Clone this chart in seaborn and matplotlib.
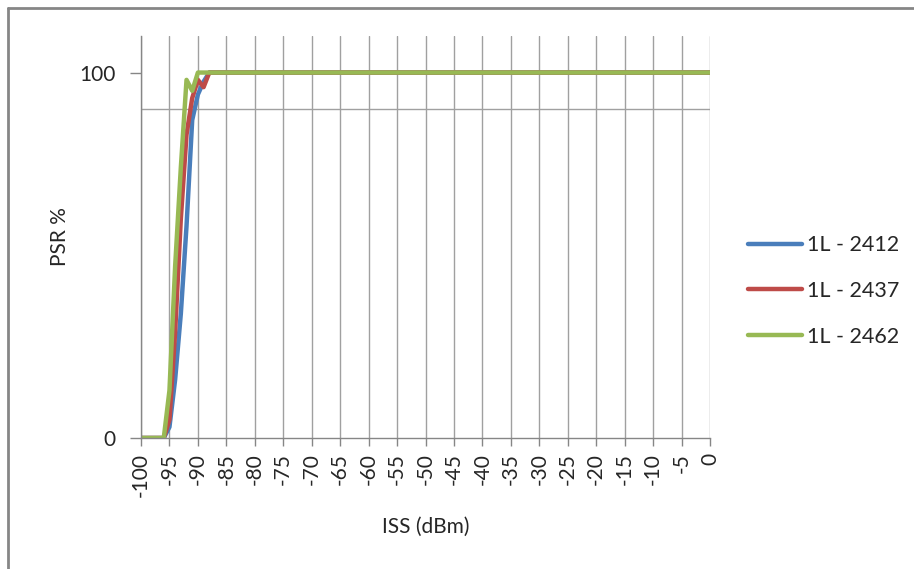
import matplotlib
matplotlib.use('Agg')
import matplotlib.pyplot as plt
from matplotlib.lines import Line2D
import seaborn as sns
import pandas as pd

# ISS sweep (dBm) and packet success rate (%) per channel
iss = [-100, -97, -96, -95, -94, -93, -92, -91, -90, -89, -88, -87,
       -85, -80, -70, -60, -50, -40, -30, -20, -10, -5, 0]
psr_2412 = [0, 0, 0, 3, 16, 34, 58, 87, 94, 97.5, 100, 100,
            100, 100, 100, 100, 100, 100, 100, 100, 100, 100, 100]
psr_2437 = [0, 0, 0, 5, 29, 60, 83, 93, 98, 96, 100, 100,
            100, 100, 100, 100, 100, 100, 100, 100, 100, 100, 100]
psr_2462 = [0, 0, 0, 13, 47, 74, 98, 95, 100, 100, 100, 100,
            100, 100, 100, 100, 100, 100, 100, 100, 100, 100, 100]
series = ['1L - 2412', '1L - 2437', '1L - 2462']
colors = ['#4A7EBB', '#BE4B48', '#98B954']
x_ticks = list(range(-100, 1, 5))

df = pd.concat([
    pd.DataFrame({'ISS': iss, 'PSR': vals, 'series': name})
    for name, vals in zip(series, [psr_2412, psr_2437, psr_2462])
])

sns.set_style('white')
plt.rcParams['font.family'] = ['Lato', 'DejaVu Sans']

fig = plt.figure(figsize=(9.14, 5.69), dpi=100)
ax = fig.add_axes([141 / 914, 1 - 438 / 569, 569 / 914, 402 / 569])

sns.lineplot(data=df, x='ISS', y='PSR', hue='series', palette=colors,
             linewidth=3.2, ax=ax, sort=False)

ax.set_xlim(-100, 0)
ax.set_ylim(0, 110)
ax.set_xticks(x_ticks)
ax.set_xticklabels([str(t) for t in x_ticks], rotation=90, fontsize=15)
ax.set_yticks([0, 100])
ax.set_yticklabels(['0', '100'], fontsize=15)
ax.set_yticks([90], minor=True)

ax.grid(True, axis='x', color='#A0A0A0', linewidth=1)
ax.grid(True, axis='y', which='minor', color='#A0A0A0', linewidth=1)
ax.set_axisbelow(True)
ax.tick_params(axis='y', which='major', direction='out', length=8, width=1,
               color='#868686', pad=10, left=True)
ax.tick_params(axis='y', which='minor', length=0)
ax.tick_params(axis='x', direction='out', length=6, width=1,
               color='#868686', pad=5, bottom=True)

for side in ['top', 'right']:
    ax.spines[side].set_visible(False)
for side in ['left', 'bottom']:
    ax.spines[side].set_color('#868686')
    ax.spines[side].set_linewidth(1)

ax.set_xlabel('ISS (dBm)', fontsize=15, labelpad=14)
ax.set_ylabel('PSR %', fontsize=15, labelpad=7)

ax.legend(loc='center left', bbox_to_anchor=(748 / 914, 1 - 291 / 569),
          bbox_transform=fig.transFigure, frameon=False, fontsize=15.5,
          handlelength=2.5, handletextpad=0.25, labelspacing=1.2,
          borderpad=0, borderaxespad=0)

# chart area border (top and left edges visible)
fig.add_artist(Line2D([8 / 914, 8 / 914], [0, 1 - 8 / 569],
                      transform=fig.transFigure, color='#868686', linewidth=2))
fig.add_artist(Line2D([8 / 914, 1], [1 - 8 / 569, 1 - 8 / 569],
                      transform=fig.transFigure, color='#868686', linewidth=2))

fig.savefig('out.png', dpi=100)
